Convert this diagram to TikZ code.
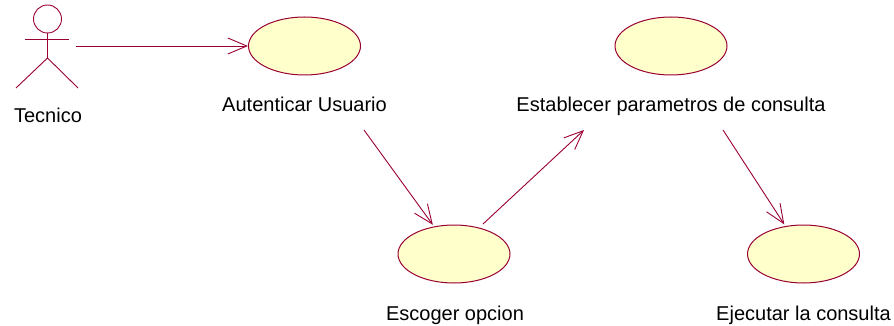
\documentclass[tikz,border=0pt]{standalone}
\usepackage{fontspec}
\setmainfont{Liberation Sans}
\usetikzlibrary{arrows.meta,shapes.geometric}
\definecolor{rosered}{RGB}{153,0,51}
\definecolor{rosefill}{RGB}{255,255,204}
\tikzset{
  usecase/.style={shape=ellipse,draw=rosered,fill=rosefill,line width=1pt,minimum width=112pt,minimum height=58pt,inner sep=0pt},
  caption/.style={anchor=base,inner sep=0pt,text=black,font=\fontsize{20}{24}\selectfont},
  flow/.style={draw=rosered,line width=0.9pt,-{Straight Barb[length=19pt,width=16pt,line width=0.9pt]}},
  stick/.style={draw=rosered,line width=0.9pt}
}
\begin{document}
\begin{tikzpicture}[x=1pt,y=-1pt]
\useasboundingbox (0,0) rectangle (894,326);
\node[usecase] (A) at (304.5,46) {};
\node[usecase] (B) at (454,254) {};
\node[usecase] (C) at (671,46) {};
\node[usecase] (D) at (803.5,254) {};
\node[caption] (Tecnico) at (48,123) {Tecnico};
\node[caption] (LA) at (304.5,112) {Autenticar Usuario};
\node[caption] (LB) at (455,320) {Escoger opcion};
\node[caption] (LC) at (671,112) {Establecer parametros de consulta};
\node[caption] (LD) at (803.5,320) {Ejecutar la consulta};
% actor
\node[circle,stick,minimum size=28pt,inner sep=0pt] (head) at (47.5,19) {};
\coordinate (armL) at (25,39.5);
\coordinate (armR) at (69,39.5);
\coordinate (hip) at (47.5,58);
\coordinate (legL) at (16,88);
\coordinate (legR) at (78,88);
\draw[stick] (head.south) -- (hip);
\draw[stick] (armL) -- (armR);
\draw[stick] (legL) -- (hip) -- (legR);
% connector free ends
\coordinate (s0) at (76,46);
\coordinate (s1) at (364,130);
\coordinate (s2) at (483,224);
\coordinate (e2) at (584,130);
\coordinate (s3) at (723,130);
\draw[flow] (s0) -- (A);
\draw[flow,shorten >=2pt] (s1) -- (B);
\draw[flow] (s2) -- (e2);
\draw[flow,shorten >=2pt] (s3) -- (D);
\end{tikzpicture}
\end{document}
